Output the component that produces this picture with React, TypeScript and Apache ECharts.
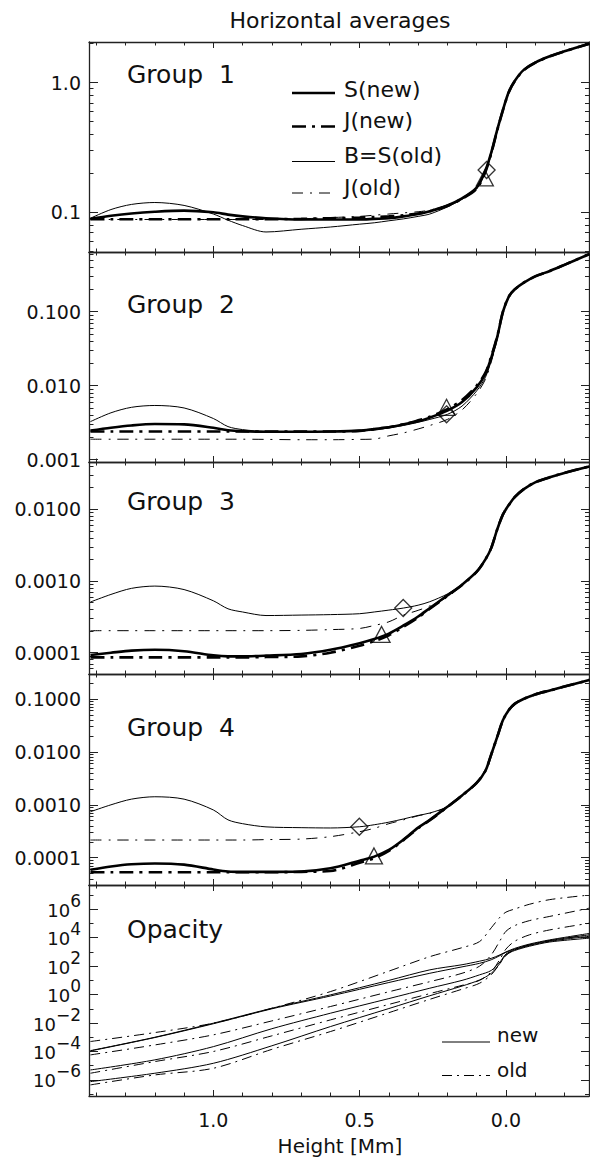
import React, { useEffect, useRef } from 'react';
import * as echarts from 'echarts';

// ---------- data ----------
const heights = [1.42, 1.35, 1.28, 1.2, 1.1, 1.0, 0.95, 0.9, 0.82, 0.7, 0.6, 0.5, 0.45, 0.4, 0.35, 0.3, 0.26, 0.2, 0.15, 0.1, 0.07, 0.05, 0.03, 0.01, -0.01, -0.03, -0.06, -0.1, -0.15, -0.2, -0.285];

const g1SNew = [0.089, 0.094, 0.098, 0.101, 0.103, 0.1, 0.096, 0.093, 0.09, 0.088, 0.088, 0.088, 0.089, 0.09, 0.093, 0.097, 0.102, 0.113, 0.128, 0.155, 0.21, 0.29, 0.43, 0.62, 0.85, 1.03, 1.25, 1.43, 1.6, 1.75, 2.0];
const g1JNew = [0.0885, 0.0885, 0.0885, 0.0885, 0.0885, 0.0885, 0.0885, 0.0885, 0.0885, 0.089, 0.09, 0.091, 0.092, 0.093, 0.095, 0.098, 0.102, 0.112, 0.127, 0.152, 0.205, 0.285, 0.425, 0.615, 0.845, 1.025, 1.245, 1.425, 1.595, 1.745, 1.995];
const g1BOld = [0.09, 0.105, 0.115, 0.119, 0.113, 0.097, 0.087, 0.079, 0.0705, 0.074, 0.077, 0.081, 0.083, 0.086, 0.089, 0.093, 0.097, 0.11, 0.126, 0.152, 0.205, 0.28, 0.42, 0.61, 0.845, 1.025, 1.245, 1.425, 1.595, 1.745, 1.995];
const g1JOld = [0.088, 0.088, 0.088, 0.088, 0.088, 0.088, 0.088, 0.088, 0.088, 0.089, 0.091, 0.093, 0.095, 0.097, 0.099, 0.101, 0.104, 0.114, 0.13, 0.155, 0.205, 0.285, 0.425, 0.615, 0.845, 1.025, 1.245, 1.425, 1.595, 1.745, 1.995];

const g2SNew = [0.00247, 0.0027, 0.0029, 0.00303, 0.003, 0.0027, 0.0025, 0.00242, 0.00238, 0.00238, 0.0024, 0.00247, 0.0026, 0.00274, 0.003, 0.0033, 0.0037, 0.0046, 0.006, 0.0095, 0.0145, 0.024, 0.045, 0.1, 0.16, 0.2, 0.245, 0.3, 0.355, 0.43, 0.6];
const g2JNew = [0.0024, 0.0024, 0.0024, 0.0024, 0.0024, 0.0024, 0.0024, 0.0024, 0.0024, 0.0024, 0.0024, 0.00245, 0.0026, 0.00275, 0.003, 0.0034, 0.0038, 0.0048, 0.0064, 0.01, 0.015, 0.025, 0.046, 0.1, 0.16, 0.2, 0.245, 0.3, 0.355, 0.43, 0.6];
const g2BOld = [0.00327, 0.0043, 0.0051, 0.0054, 0.005, 0.0036, 0.0028, 0.00255, 0.0024, 0.00238, 0.0024, 0.00245, 0.0025, 0.0027, 0.0029, 0.0032, 0.0035, 0.0041, 0.0053, 0.0085, 0.013, 0.022, 0.043, 0.098, 0.16, 0.2, 0.245, 0.3, 0.355, 0.43, 0.6];
const g2JOld = [0.00189, 0.00189, 0.00189, 0.00189, 0.00189, 0.00189, 0.00189, 0.00189, 0.00188, 0.00186, 0.00186, 0.00188, 0.0019, 0.0021, 0.0023, 0.0026, 0.0029, 0.0035, 0.0047, 0.0078, 0.0122, 0.021, 0.042, 0.097, 0.16, 0.2, 0.245, 0.3, 0.355, 0.43, 0.6];

const g3SNew = [9.3e-5, 1.0e-4, 1.07e-4, 1.1e-4, 1.05e-4, 9.2e-5, 8.9e-5, 8.9e-5, 9.1e-5, 9.6e-5, 1.1e-4, 1.36e-4, 1.55e-4, 1.85e-4, 2.4e-4, 3.2e-4, 4.2e-4, 6.3e-4, 8.9e-4, 1.35e-3, 2.0e-3, 2.9e-3, 5.2e-3, 8.5e-3, 1.15e-2, 1.48e-2, 1.9e-2, 2.38e-2, 2.8e-2, 3.22e-2, 3.95e-2];
const g3JNew = [8.6e-5, 8.6e-5, 8.6e-5, 8.6e-5, 8.6e-5, 8.6e-5, 8.6e-5, 8.6e-5, 8.7e-5, 8.9e-5, 1.0e-4, 1.25e-4, 1.45e-4, 1.75e-4, 2.3e-4, 3.1e-4, 4.1e-4, 6.2e-4, 8.8e-4, 1.34e-3, 2.0e-3, 2.9e-3, 5.2e-3, 8.5e-3, 1.15e-2, 1.48e-2, 1.9e-2, 2.38e-2, 2.8e-2, 3.22e-2, 3.95e-2];
const g3BOld = [5.1e-4, 6.5e-4, 7.9e-4, 8.5e-4, 7.6e-4, 5.3e-4, 4.1e-4, 3.7e-4, 3.3e-4, 3.35e-4, 3.4e-4, 3.5e-4, 3.7e-4, 3.93e-4, 4.2e-4, 4.6e-4, 5.15e-4, 6.6e-4, 8.9e-4, 1.35e-3, 2.0e-3, 2.9e-3, 5.2e-3, 8.5e-3, 1.15e-2, 1.48e-2, 1.9e-2, 2.38e-2, 2.8e-2, 3.22e-2, 3.95e-2];
const g3JOld = [2.03e-4, 2.03e-4, 2.03e-4, 2.03e-4, 2.03e-4, 2.03e-4, 2.03e-4, 2.03e-4, 2.03e-4, 2.05e-4, 2.1e-4, 2.18e-4, 2.4e-4, 2.7e-4, 3.35e-4, 3.9e-4, 4.5e-4, 6.0e-4, 8.7e-4, 1.34e-3, 2.0e-3, 2.9e-3, 5.2e-3, 8.5e-3, 1.15e-2, 1.48e-2, 1.9e-2, 2.38e-2, 2.8e-2, 3.22e-2, 3.95e-2];

const g4SNew = [5.9e-5, 6.8e-5, 7.5e-5, 7.8e-5, 7.4e-5, 6.0e-5, 5.5e-5, 5.4e-5, 5.4e-5, 5.5e-5, 6.3e-5, 8.8e-5, 1.05e-4, 1.4e-4, 2.2e-4, 3.7e-4, 5.2e-4, 9.2e-4, 1.5e-3, 2.6e-3, 4.4e-3, 9.0e-3, 1.9e-2, 4.0e-2, 6.2e-2, 8.1e-2, 0.1, 0.122, 0.145, 0.172, 0.229];
const g4JNew = [5.3e-5, 5.3e-5, 5.3e-5, 5.3e-5, 5.3e-5, 5.3e-5, 5.3e-5, 5.3e-5, 5.3e-5, 5.4e-5, 5.6e-5, 8.0e-5, 9.8e-5, 1.35e-4, 2.15e-4, 3.6e-4, 5.1e-4, 9.1e-4, 1.5e-3, 2.6e-3, 4.4e-3, 9.0e-3, 1.9e-2, 4.0e-2, 6.2e-2, 8.1e-2, 0.1, 0.122, 0.145, 0.172, 0.229];
const g4BOld = [7.4e-4, 1.0e-3, 1.28e-3, 1.42e-3, 1.28e-3, 8.0e-4, 5.2e-4, 4.4e-4, 3.83e-4, 3.7e-4, 3.65e-4, 3.85e-4, 4.2e-4, 4.7e-4, 5.4e-4, 6.3e-4, 7.0e-4, 9.2e-4, 1.5e-3, 2.6e-3, 4.4e-3, 9.0e-3, 1.9e-2, 4.0e-2, 6.2e-2, 8.1e-2, 0.1, 0.122, 0.145, 0.172, 0.229];
const g4JOld = [2.16e-4, 2.16e-4, 2.16e-4, 2.16e-4, 2.16e-4, 2.16e-4, 2.16e-4, 2.16e-4, 2.2e-4, 2.25e-4, 2.5e-4, 3.1e-4, 3.6e-4, 4.4e-4, 5.2e-4, 6.2e-4, 6.9e-4, 9.1e-4, 1.5e-3, 2.6e-3, 4.4e-3, 9.0e-3, 1.9e-2, 4.0e-2, 6.2e-2, 8.1e-2, 0.1, 0.122, 0.145, 0.172, 0.229];

// tau = 1 markers (triangle: new, diamond: old), one per group
const tauNewHeights = [0.072, 0.203, 0.425, 0.451];
const tauNewValues = [0.184, 0.0051, 1.8e-4, 1.08e-4];
const tauOldHeights = [0.066, 0.203, 0.351, 0.501];
const tauOldValues = [0.212, 0.0041, 4.2e-4, 3.85e-4];

// opacity panel: log10 of the opacity
const opacityHeights = [1.42, 1.2, 1.0, 0.8, 0.6, 0.4, 0.26, 0.15, 0.09, 0.05, 0.02, 0.0, -0.03, -0.08, -0.15, -0.285];
const opNew1 = [-3.94, -3.0, -2.01, -0.96, -0.02, 1.0, 1.74, 2.1, 2.35, 2.55, 2.8, 3.0, 3.25, 3.55, 3.85, 4.3];
const opNew2 = [-3.96, -3.02, -2.05, -1.0, -0.1, 0.85, 1.5, 1.95, 2.2, 2.45, 2.75, 2.97, 3.2, 3.5, 3.8, 4.2];
const opNew3 = [-5.3, -4.59, -3.66, -2.4, -1.31, -0.28, 0.45, 1.0, 1.39, 1.7, 2.3, 2.85, 3.15, 3.45, 3.75, 4.1];
const opNew4 = [-6.12, -5.53, -4.83, -3.6, -2.25, -0.98, -0.08, 0.6, 1.03, 1.5, 2.2, 2.8, 3.1, 3.4, 3.7, 3.97];
const opOld1 = [-3.3, -2.67, -2.01, -0.96, 0.21, 1.65, 2.67, 3.3, 3.73, 4.7, 5.45, 5.8, 6.02, 6.35, 6.68, 7.0];
const opOld2 = [-4.24, -3.54, -2.83, -1.85, -0.84, 0.2, 0.91, 1.5, 2.0, 2.8, 3.8, 4.45, 4.85, 5.2, 5.5, 6.08];
const opOld3 = [-5.53, -4.71, -4.0, -2.9, -1.78, -0.69, 0.07, 0.65, 1.0, 1.6, 2.5, 3.2, 3.75, 4.2, 4.55, 5.02];
const opOld4 = [-6.35, -5.65, -5.18, -3.85, -2.6, -1.27, -0.33, 0.38, 0.8, 1.4, 2.2, 2.75, 3.15, 3.5, 3.8, 4.2];

// tick labels
const xTickValues = [1.0, 0.5, 0.0];
const xTickLabels = ['1.0', '0.5', '0.0'];
const xMinorValues = [-0.2, -0.1, 0.1, 0.2, 0.3, 0.4, 0.6, 0.7, 0.8, 0.9, 1.1, 1.2, 1.3, 1.4];
const g1TickValues = [0.1, 1.0];
const g1TickLabels = ['0.1', '1.0'];
const g2TickValues = [0.001, 0.01, 0.1];
const g2TickLabels = ['0.001', '0.010', '0.100'];
const g3TickValues = [0.0001, 0.001, 0.01];
const g3TickLabels = ['0.0001', '0.0010', '0.0100'];
const g4TickValues = [0.0001, 0.001, 0.01, 0.1];
const g4TickLabels = ['0.0001', '0.0010', '0.0100', '0.1000'];
const opTickExps = [-6, -4, -2, 0, 2, 4, 6];
const opMinorExps = [-7, -5, -3, -1, 1, 3, 5, 7];

const groupNames = ['Group  1', 'Group  2', 'Group  3', 'Group  4', 'Opacity'];
const legendLabels = ['S(new)', 'J(new)', 'B=S(old)', 'J(old)'];
const opLegendLabels = ['new', 'old'];
const chartTitle = 'Horizontal averages';
const xTitle = 'Height [Mm]';

// ---------- layout / style ----------
const FONT = 'DejaVu Sans';
const INK = '#111';
const AX = '#222';
const X_MIN = -0.284;
const X_MAX = 1.425;
const PLOT_LEFT = 89;
const PLOT_W = 500;
const grids = [
  { top: 42, height: 210, yr: [0.0494, 2.06] },
  { top: 252, height: 210, yr: [0.00093, 0.641] },
  { top: 462, height: 212, yr: [5.05e-5, 0.0457] },
  { top: 674, height: 211, yr: [3.05e-5, 0.297] },
  { top: 885, height: 211, yr: [7.4e-8, 5.1e7] },
];
const labelY = [74, 304, 501.5, 727.5, 929];

const DASH_THICK = [14, 6, 3, 6];
const DASH_THIN = [11, 7, 2, 7];
const DASH_OP = [10, 5, 2, 5];

function logMinors(min: number, max: number) {
  const out: number[] = [];
  for (let d = Math.floor(Math.log10(min)); d <= Math.ceil(Math.log10(max)); d++) {
    for (let k = 2; k <= 9; k++) {
      const v = k * Math.pow(10, d);
      if (v >= min && v <= max) out.push(v);
    }
  }
  return out;
}

function lookup(values: number[], labels: string[], v: number) {
  for (let i = 0; i < values.length; i++) {
    if (Math.abs(values[i] - v) < 1e-9 + Math.abs(values[i]) * 1e-3) return labels[i];
  }
  return '';
}

function buildOption() {
  const tickVals = [g1TickValues, g2TickValues, g3TickValues, g4TickValues, opTickExps.map((e) => Math.pow(10, e))];
  const tickLabs = [g1TickLabels, g2TickLabels, g3TickLabels, g4TickLabels, null];
  const lineStyleAx = { color: AX, width: 1.3 };
  const tickStyle = { color: AX, width: 1 };

  const gridOpt: any[] = [];
  const xAxes: any[] = [];
  const yAxes: any[] = [];
  grids.forEach((g, i) => {
    gridOpt.push({ left: PLOT_LEFT, width: PLOT_W, top: g.top, height: g.height, containLabel: false });
    const xb = {
      type: 'value', gridIndex: i, min: X_MIN, max: X_MAX, inverse: true,
      splitLine: { show: false }, axisLabel: { show: false }, silent: true,
    };
    const isLast = i === grids.length - 1;
    xAxes.push({
      ...xb, position: 'bottom',
      axisLine: { show: true, onZero: false, lineStyle: lineStyleAx },
      axisTick: { show: true, inside: true, length: 6, customValues: xTickValues, lineStyle: tickStyle },
      axisLabel: isLast
        ? {
            show: true, customValues: xTickValues, margin: 14,
            formatter: (v: number) => lookup(xTickValues, xTickLabels, v),
            fontFamily: FONT, fontSize: 19, color: INK,
          }
        : { show: false },
    });
    xAxes.push({
      ...xb, position: 'bottom',
      axisLine: { show: false, onZero: false },
      axisTick: { show: true, inside: true, length: 3.5, customValues: xMinorValues, lineStyle: tickStyle },
    });
    xAxes.push({
      ...xb, position: 'top',
      axisLine: { show: true, onZero: false, lineStyle: lineStyleAx },
      axisTick: { show: true, inside: true, length: 6, customValues: xTickValues, lineStyle: tickStyle },
    });
    xAxes.push({
      ...xb, position: 'top',
      axisLine: { show: false, onZero: false },
      axisTick: { show: true, inside: true, length: 3.5, customValues: xMinorValues, lineStyle: tickStyle },
    });

    const majors = tickVals[i];
    const minors = i < 4 ? logMinors(g.yr[0], g.yr[1]) : opMinorExps.map((e) => Math.pow(10, e));
    const yb = {
      type: 'log', logBase: 10, gridIndex: i, min: g.yr[0], max: g.yr[1],
      splitLine: { show: false }, axisLabel: { show: false }, silent: true,
    };
    const labs = tickLabs[i];
    const labelOpt = labs
      ? {
          show: true, customValues: majors, margin: 8,
          formatter: (v: number) => lookup(majors, labs, v),
          fontFamily: FONT, fontSize: 19, color: INK,
        }
      : {
          show: true, customValues: majors, margin: 8, padding: [0, 0, 7, 0],
          formatter: (v: number) => {
            const e = Math.round(Math.log10(v));
            return '{b|10}{s|' + (e < 0 ? '\u2212' + -e : String(e)) + '}';
          },
          rich: {
            b: { fontFamily: FONT, fontSize: 18, color: INK, verticalAlign: 'bottom' },
            s: { fontFamily: FONT, fontSize: 17, color: INK, verticalAlign: 'top', padding: [0, 0, 10, 0] },
          },
        };
    yAxes.push({
      ...yb, position: 'left',
      axisLine: { show: true, onZero: false, lineStyle: lineStyleAx },
      axisTick: { show: true, inside: true, length: 9, customValues: majors, lineStyle: tickStyle },
      axisLabel: labelOpt,
    });
    yAxes.push({
      ...yb, position: 'left',
      axisLine: { show: false, onZero: false },
      axisTick: { show: true, inside: true, length: 4.5, customValues: minors, lineStyle: tickStyle },
    });
    yAxes.push({
      ...yb, position: 'right',
      axisLine: { show: true, onZero: false, lineStyle: lineStyleAx },
      axisTick: { show: true, inside: true, length: 8, customValues: majors, lineStyle: tickStyle },
    });
    yAxes.push({
      ...yb, position: 'right',
      axisLine: { show: false, onZero: false },
      axisTick: { show: true, inside: true, length: 4, customValues: minors, lineStyle: tickStyle },
    });
  });

  const series: any[] = [];
  const mkLine = (i: number, xs: number[], ys: number[], width: number, type: any) => ({
    type: 'line', xAxisIndex: i * 4, yAxisIndex: i * 4,
    data: xs.map((h, k) => [h, ys[k]]),
    symbol: 'none', showSymbol: false, smooth: 0.3, silent: true,
    lineStyle: { color: '#000', width, type },
    z: 2,
  });
  const groups = [
    [g1SNew, g1JNew, g1BOld, g1JOld],
    [g2SNew, g2JNew, g2BOld, g2JOld],
    [g3SNew, g3JNew, g3BOld, g3JOld],
    [g4SNew, g4JNew, g4BOld, g4JOld],
  ];
  groups.forEach((grp, i) => {
    series.push(mkLine(i, heights, grp[3], 1, DASH_THIN));
    series.push(mkLine(i, heights, grp[2], 1, 'solid'));
    series.push(mkLine(i, heights, grp[1], 2.6, DASH_THICK));
    series.push(mkLine(i, heights, grp[0], 2.6, 'solid'));
    series.push({
      type: 'scatter', xAxisIndex: i * 4, yAxisIndex: i * 4, silent: true, z: 5,
      data: [[tauNewHeights[i], tauNewValues[i]]],
      symbol: 'triangle', symbolSize: [17, 16],
      itemStyle: { color: 'rgba(255,255,255,0)', borderColor: '#000', borderWidth: 1.3 },
    });
    series.push({
      type: 'scatter', xAxisIndex: i * 4, yAxisIndex: i * 4, silent: true, z: 5,
      data: [[tauOldHeights[i], tauOldValues[i]]],
      symbol: 'diamond', symbolSize: [17, 17],
      itemStyle: { color: 'rgba(255,255,255,0)', borderColor: '#000', borderWidth: 1.3 },
    });
  });
  const toVal = (arr: number[]) => arr.map((e) => Math.pow(10, e));
  [opOld1, opOld2, opOld3, opOld4].forEach((arr) => series.push(mkLine(4, opacityHeights, toVal(arr), 1, DASH_OP)));
  [opNew1, opNew2, opNew3, opNew4].forEach((arr) => series.push(mkLine(4, opacityHeights, toVal(arr), 1, 'solid')));

  const txt = (x: number, y: number, text: string, size: number, align = 'left') => ({
    type: 'text', x, y, silent: true,
    style: { text, fontFamily: FONT, fontSize: size, fill: INK, align, verticalAlign: 'middle' },
  });
  const seg = (x1: number, x2: number, y: number, w: number, dash: any) => ({
    type: 'line', silent: true,
    shape: { x1, y1: y, x2, y2: y },
    style: { stroke: '#000', lineWidth: w, lineDash: dash },
  });

  const graphic: any[] = [];
  graphic.push(txt(340, 20.5, chartTitle, 22, 'center'));
  groupNames.forEach((n, i) => graphic.push(txt(127, labelY[i], n, 25)));
  const legLineY = [93, 126.5, 161.5, 193];
  const legTextY = [89, 120.7, 155.7, 187.4];
  const legW = [2.6, 2.6, 1, 1];
  const legDash = [null, DASH_THICK, null, DASH_THIN];
  legendLabels.forEach((l, k) => {
    graphic.push(seg(292, 335, legLineY[k], legW[k], legDash[k]));
    graphic.push(txt(344, legTextY[k], l, 22));
  });
  graphic.push(seg(442, 490, 1042, 1, null));
  graphic.push(txt(497, 1035, opLegendLabels[0], 20));
  graphic.push(seg(442, 490, 1075.5, 1, DASH_OP));
  graphic.push(txt(497, 1070, opLegendLabels[1], 20));
  graphic.push(txt(340, 1146, xTitle, 20, 'center'));

  return {
    animation: false,
    backgroundColor: '#fff',
    grid: gridOpt,
    xAxis: xAxes,
    yAxis: yAxes,
    series,
    graphic,
  };
}

export default function App() {
  const ref = useRef<HTMLDivElement>(null);
  useEffect(() => {
    const chart = echarts.init(ref.current as HTMLDivElement, null, { renderer: 'svg' });
    chart.setOption(buildOption() as any);
    return () => chart.dispose();
  }, []);
  return (
    <div
      ref={ref}
      style={{ position: 'absolute', left: 0, top: 0, width: 590, height: 1159, background: '#fff' }}
    />
  );
}
